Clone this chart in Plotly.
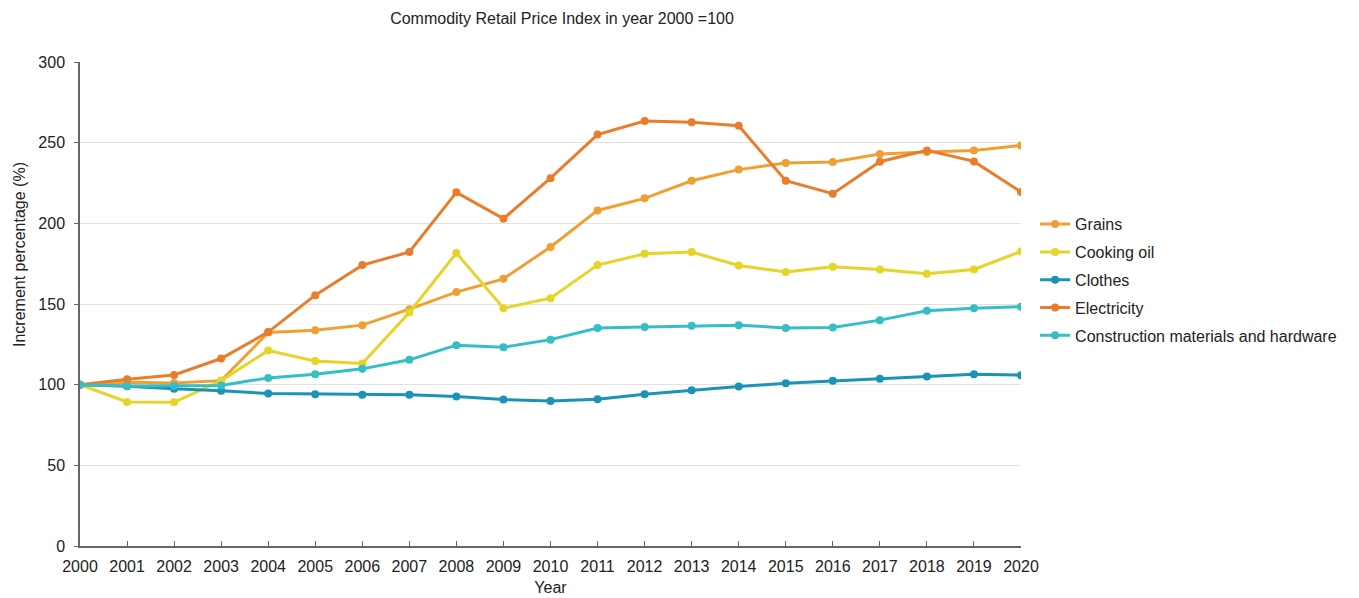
import plotly.graph_objects as go

years = list(range(2000, 2021))

grains = [100, 101.5, 101, 102.5, 132.3, 133.8, 136.9, 146.8, 157.4, 165.6, 185.3,
          208, 215.5, 226.4, 233.3, 237.4, 238, 243, 244.2, 245.2, 248.3]
cooking_oil = [100, 89.3, 89.1, 102.5, 121.2, 114.6, 113.1, 144.7, 181.6, 147.4, 153.6,
               174.1, 181.1, 182.2, 173.9, 169.8, 173.1, 171.4, 168.7, 171.4, 182.6]
clothes = [100, 99, 97.4, 96.2, 94.5, 94.1, 93.7, 93.7, 92.6, 90.8, 89.9,
           91, 94.1, 96.6, 98.8, 100.9, 102.4, 103.6, 105, 106.5, 105.9]
electricity = [100, 103.4, 106, 116.2, 132.6, 155.5, 174.1, 182.2, 219.2, 202.9, 228,
               255, 263.4, 262.6, 260.5, 226.4, 218.4, 238.2, 245.2, 238.4, 219.4]
construction = [100, 99.2, 99.4, 99.5, 104.2, 106.5, 109.8, 115.4, 124.5, 123.2, 127.9,
                135.1, 135.7, 136.5, 136.9, 135.2, 135.4, 140, 145.8, 147.4, 148.3]

series = [
    ("Grains", grains, "#EFA032"),
    ("Cooking oil", cooking_oil, "#E6D428"),
    ("Clothes", clothes, "#1B93B7"),
    ("Electricity", electricity, "#EA7D2B"),
    ("Construction materials and hardware", construction, "#35BEC6"),
]

fig = go.Figure()
for name, vals, color in series:
    fig.add_trace(go.Scatter(
        x=years, y=vals, name=name, mode="lines+markers",
        legendgroup=name,
        line=dict(color=color, width=3),
        marker=dict(color=color, size=8),
    ))

font_family = "Liberation Sans, Arial, sans-serif"

fig.update_layout(
    width=1359, height=598,
    margin=dict(l=80, r=338, t=62, b=52),
    paper_bgcolor="white", plot_bgcolor="white",
    font=dict(family=font_family, size=16, color="#222"),
    title=dict(text="Commodity Retail Price Index in year 2000 =100",
               x=562 / 1359, xref="container", xanchor="center",
               y=1 - 18 / 598, yref="container", yanchor="middle",
               font=dict(size=16, color="#222")),
    legend=dict(x=1.015, y=0.70, xanchor="left", yanchor="top",
                font=dict(size=16, color="#222"),
                traceorder="grouped", tracegroupgap=4,
                itemwidth=30, bgcolor="rgba(0,0,0,0)"),
    showlegend=True,
    annotations=[dict(
        text="Increment percentage (%)", textangle=-90,
        xref="paper", yref="paper", x=(20 - 80) / 941, y=(546 - 255) / 484,
        xanchor="center", yanchor="middle", showarrow=False,
        font=dict(size=16, color="#222"),
    )],
)

fig.update_xaxes(
    range=[2000, 2020], tickmode="array", tickvals=years,
    ticktext=[str(y) for y in years],
    showgrid=False, zeroline=False, automargin=False,
    showline=True, linecolor="#666", linewidth=1.5,
    ticks="inside", ticklen=5, tickcolor="#666",
    ticklabelstandoff=5,
    tickfont=dict(size=16),
    title=dict(text="Year", font=dict(size=16), standoff=8),
)
fig.update_yaxes(
    range=[0, 300], tickvals=[0, 50, 100, 150, 200, 250, 300],
    showgrid=True, gridcolor="#E2E2E2", gridwidth=1, zeroline=False,
    automargin=False,
    showline=True, linecolor="#666", linewidth=1.5,
    ticks="outside", ticklen=4, tickcolor="#666",
    ticklabelstandoff=6,
    tickfont=dict(size=16),
)

fig.write_html("out.html")
